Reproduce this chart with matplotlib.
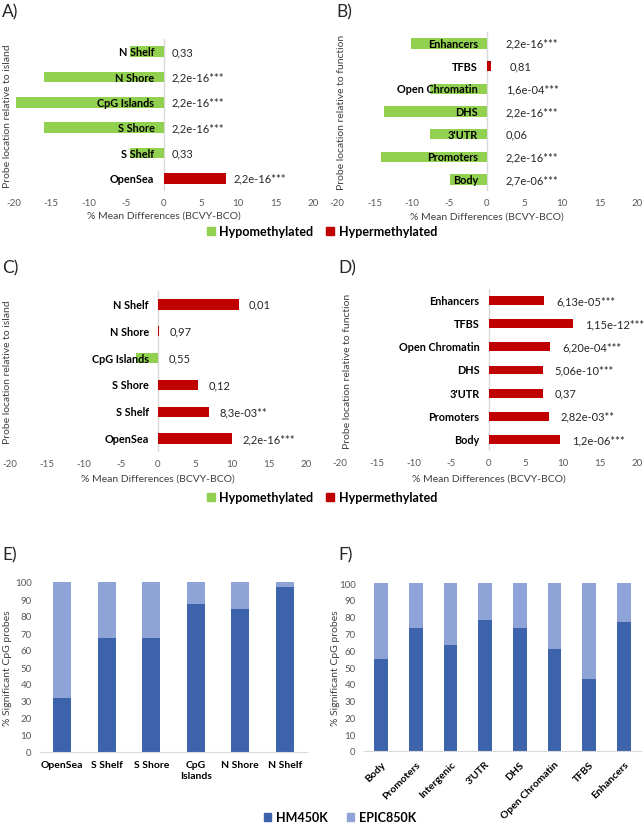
import matplotlib
matplotlib.use("Agg")
import matplotlib.pyplot as plt
from matplotlib.patches import Patch
import numpy as np

plt.rcParams['font.family'] = ['Lato', 'DejaVu Sans']

# ---------------- data ----------------
island_cats = ["N Shelf", "N Shore", "CpG Islands", "S Shore", "S Shelf", "OpenSea"]
function_cats = ["Enhancers", "TFBS", "Open Chromatin", "DHS", "3'UTR", "Promoters", "Body"]

a_values = [-4.5, -16.0, -19.7, -16.0, -4.5, 8.3]
a_pvals = ["0,33", "2,2e-16***", "2,2e-16***", "2,2e-16***", "0,33", "2,2e-16***"]

b_values = [-10.1, 0.5, -7.6, -13.8, -7.6, -14.1, -5.0]
b_pvals = ["2,2e-16***", "0,81", "1,6e-04***", "2,2e-16***", "0,06", "2,2e-16***", "2,7e-06***"]

c_values = [10.9, 0.2, -3.0, 5.4, 6.9, 10.0]
c_pvals = ["0,01", "0,97", "0,55", "0,12", "8,3e-03**", "2,2e-16***"]

d_values = [7.5, 11.4, 8.3, 7.3, 7.3, 8.1, 9.6]
d_pvals = ["6,13e-05***", "1,15e-12***", "6,20e-04***", "5,06e-10***", "0,37", "2,82e-03**", "1,2e-06***"]

e_cats = ["OpenSea", "S Shelf", "S Shore", "CpG\nIslands", "N Shore", "N Shelf"]
e_hm450 = [32, 67, 67, 87, 84, 97]

f_cats = ["Body", "Promoters", "Intergenic", "3'UTR", "DHS", "Open Chromatin", "TFBS", "Enhancers"]
f_hm450 = [55, 73, 63, 78, 73, 61, 43, 77]

x_ticks = [-20, -15, -10, -5, 0, 5, 10, 15, 20]

GREEN = "#92D050"
RED = "#C00000"
DBLUE = "#3D63AD"
LBLUE = "#8FA4D6"
GREY = "#595959"

W, H = 644, 828
fig = plt.figure(figsize=(W / 100, H / 100), dpi=100)


def px_axes(x0, y0, x1, y1):
    return fig.add_axes([x0 / W, 1 - y1 / H, (x1 - x0) / W, (y1 - y0) / H])


def diverging(ax, cats, values, pvals, offset, bar_h, ylabel_txt, ylabel_x, xlabel_y, ax_box):
    n = len(cats)
    y = np.arange(n)[::-1]
    colors = [GREEN if v < 0 else RED for v in values]
    ax.barh(y, values, height=bar_h, color=colors)
    ax.axvline(0, color="#D9D9D9", lw=1, zorder=0)
    ax.set_xlim(-20, 20)
    ax.set_ylim(-0.5, n - 0.5)
    ax.set_xticks(x_ticks)
    ax.set_xticklabels([str(t) for t in x_ticks])
    ax.tick_params(axis='x', length=0, labelsize=7, colors=GREY, pad=5)
    ax.set_yticks([])
    for s in ax.spines.values():
        s.set_visible(False)
    for yi, cat, v, p in zip(y, cats, values, pvals):
        ax.annotate(cat, (0, yi), xytext=(-6.5, 0), textcoords='offset points',
                    ha='right', va='center', fontsize=7.8, fontweight='bold',
                    color='black', zorder=5)
        ax.text(max(v, 0) + offset, yi, p, ha='left', va='center', fontsize=8,
                color='#262626')
    x0, y0, x1, y1 = ax_box
    fig.text((x0 + x1) / 2 / W, 1 - xlabel_y / H, "% Mean Differences (BCVY-BCO)",
             ha='center', va='center', fontsize=7.5, color='#404040')
    fig.text(ylabel_x / W, 1 - (y0 + y1) / 2 / H, ylabel_txt, rotation=90,
             ha='center', va='center', fontsize=7.5, color='#404040')


boxA = (14, 40, 313, 192)
axA = px_axes(*boxA)
diverging(axA, island_cats, a_values, a_pvals, 1.1, 0.42,
          "Probe location relative to island", 8, 216, boxA)

boxB = (337, 33, 637, 192)
axB = px_axes(*boxB)
diverging(axB, function_cats, b_values, b_pvals, 2.5, 0.46,
          "Probe location relative to function", 341, 217, boxB)

boxC = (10, 292, 306, 453)
axC = px_axes(*boxC)
diverging(axC, island_cats, c_values, c_pvals, 1.4, 0.38,
          "Probe location relative to island", 8, 479, boxC)

boxD = (340, 290, 637, 452)
axD = px_axes(*boxD)
diverging(axD, function_cats, d_values, d_pvals, 1.6, 0.38,
          "Probe location relative to function", 347, 479, boxD)

# legends for the diverging panels
meth_handles = [Patch(color=GREEN, label="Hypomethylated"),
                Patch(color=RED, label="Hypermethylated")]
for ly in (232, 498):
    fig.legend(handles=meth_handles, loc='center', bbox_to_anchor=(322 / W, 1 - ly / H),
               ncol=2, frameon=False, prop={'weight': 'bold', 'size': 9},
               handlelength=0.6, handleheight=0.6, handletextpad=0.4, columnspacing=1.0)


def stacked(ax, cats, hm, rot):
    x = np.arange(len(cats))
    epic = [100 - v for v in hm]
    ax.bar(x, hm, width=0.4, color=DBLUE)
    ax.bar(x, epic, bottom=hm, width=0.4, color=LBLUE)
    ax.set_ylim(0, 100)
    ax.set_xlim(-0.5, len(cats) - 0.5)
    ax.set_yticks(range(0, 101, 10))
    ax.tick_params(axis='y', length=0, labelsize=7, colors=GREY, pad=6)
    ax.set_xticks(x)
    if rot:
        ax.set_xticklabels(cats, rotation=45, ha='right', rotation_mode='anchor',
                           fontsize=7.5, fontweight='bold')
    else:
        ax.set_xticklabels(cats, fontsize=7.5, fontweight='bold')
    ax.tick_params(axis='x', length=0, pad=6)
    for s in ('top', 'right', 'left'):
        ax.spines[s].set_visible(False)
    ax.spines['bottom'].set_color('#D9D9D9')


axE = px_axes(40, 583, 307, 753)
stacked(axE, e_cats, e_hm450, False)
fig.text(8 / W, 1 - 668 / H, "% Significant CpG probes", rotation=90,
         ha='center', va='center', fontsize=7.5, color='#404040')

axF = px_axes(364, 584, 641, 752)
stacked(axF, f_cats, f_hm450, True)
fig.text(335 / W, 1 - 668 / H, "% Significant CpG probes", rotation=90,
         ha='center', va='center', fontsize=7.5, color='#404040')

arr_handles = [Patch(color=DBLUE, label="HM450K"), Patch(color=LBLUE, label="EPIC850K")]
fig.legend(handles=arr_handles, loc='center', bbox_to_anchor=(340 / W, 1 - 818 / H),
           ncol=2, frameon=False, prop={'weight': 'bold', 'size': 9},
           handlelength=0.6, handleheight=0.6, handletextpad=0.4, columnspacing=1.5)

# panel letters
for letter, (lx, ly) in {"A)": (2, 12), "B)": (336, 12), "C)": (2, 268),
                         "D)": (338, 268), "E)": (2, 555), "F)": (338, 555)}.items():
    fig.text(lx / W, 1 - ly / H, letter, ha='left', va='center', fontsize=12.5, color='#262626')

fig.savefig("out.png", dpi=100, facecolor='white')
